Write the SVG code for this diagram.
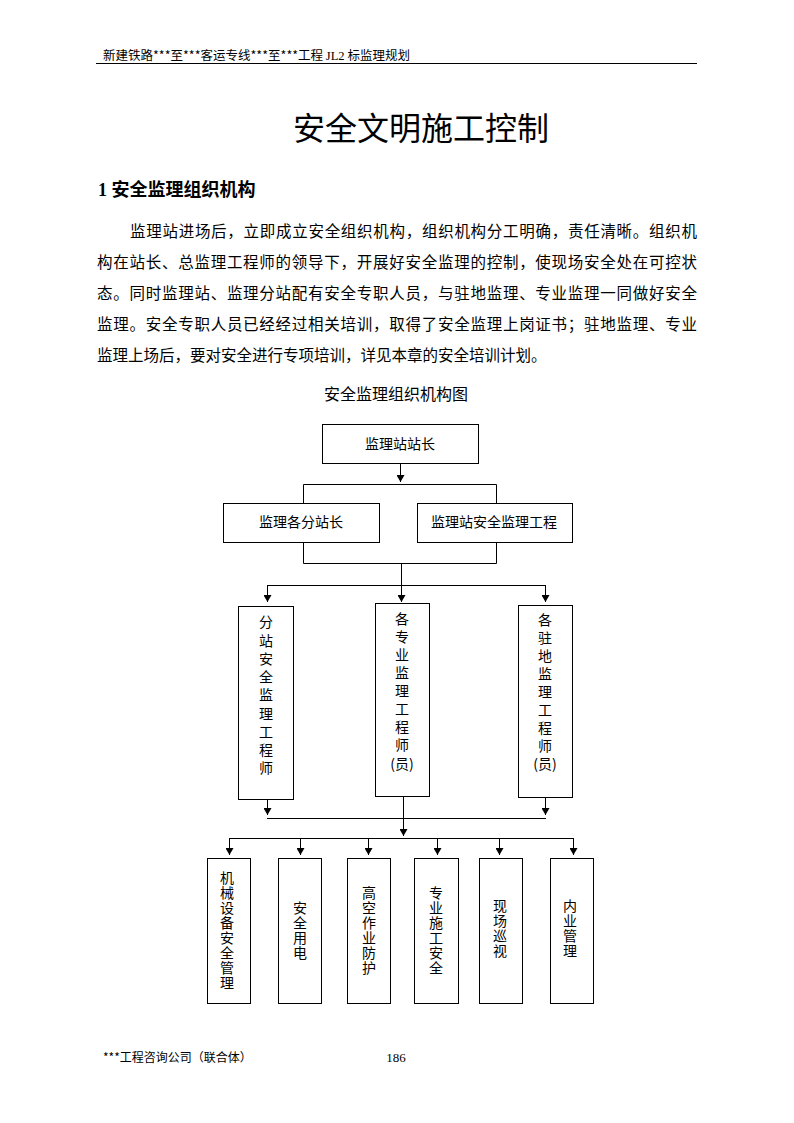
<svg xmlns="http://www.w3.org/2000/svg" width="794" height="1123" viewBox="0 0 794 1123">
<style>
.t{font-family:"Noto Sans CJK SC","Liberation Sans",sans-serif;fill:#000}
.s{font-family:"Liberation Serif","Noto Sans CJK SC",serif;fill:#000}
.box{fill:#fff;stroke:#000;stroke-width:1}
.ln{stroke:#000;stroke-width:1;fill:none}
.arr{stroke:#000;stroke-width:1;fill:none;marker-end:url(#ah)}
.v{font-family:"Noto Sans CJK SC",sans-serif;font-size:14px;writing-mode:vertical-rl;fill:#000}
.v1{letter-spacing:1px}
.v4{letter-spacing:4px}
</style>
<defs>
<marker id="ah" markerWidth="8" markerHeight="8" refX="7" refY="4" orient="auto" markerUnits="userSpaceOnUse" viewBox="0 0 8 8">
<path d="M0,0 L7,4 L0,8 z" fill="#000"/>
</marker>
</defs>
<rect width="794" height="1123" fill="#fff"/>

<g id="page-header">
<text class="t" x="103" y="60" font-size="12.5">新建铁路***至***客运专线***至***工程 <tspan class="s">JL2</tspan> 标监理规划</text>
<line class="ln" x1="96" y1="63.5" x2="697" y2="63.5"/>
</g>

<text class="t" x="421" y="140" font-size="32" text-anchor="middle">安全文明施工控制</text>
<text x="98" y="196" font-size="18" font-weight="bold"><tspan class="s">1 </tspan><tspan class="t">安全监理组织机构</tspan></text>

<g id="paragraph" class="t" font-size="15.5">
<text x="130" y="237" textLength="567" lengthAdjust="spacing">监理站进场后，立即成立安全组织机构，组织机构分工明确，责任清晰。组织机</text>
<text x="97" y="268" textLength="600" lengthAdjust="spacing">构在站长、总监理工程师的领导下，开展好安全监理的控制，使现场安全处在可控状</text>
<text x="97" y="299" textLength="600" lengthAdjust="spacing">态。同时监理站、监理分站配有安全专职人员，与驻地监理、专业监理一同做好安全</text>
<text x="97" y="330" textLength="600" lengthAdjust="spacing">监理。安全专职人员已经经过相关培训，取得了安全监理上岗证书；驻地监理、专业</text>
<text x="97" y="361">监理上场后，要对安全进行专项培训，详见本章的安全培训计划。</text>
</g>

<text class="t" x="396" y="400" font-size="16" text-anchor="middle">安全监理组织机构图</text>

<g id="connectors">
<line class="arr" x1="400.5" y1="463" x2="400.5" y2="482"/>
<polyline class="ln" points="303.5,503 303.5,484.5 496.5,484.5 496.5,503"/>
<polyline class="ln" points="303.5,542 303.5,563.5 496.5,563.5 496.5,542"/>
<line class="ln" x1="401.5" y1="563" x2="401.5" y2="585"/>
<line class="ln" x1="267" y1="585.5" x2="546" y2="585.5"/>
<line class="arr" x1="267.5" y1="585" x2="267.5" y2="602"/>
<line class="arr" x1="401.5" y1="585" x2="401.5" y2="602"/>
<line class="arr" x1="545.5" y1="585" x2="545.5" y2="602"/>
<line class="arr" x1="267.5" y1="799" x2="267.5" y2="815"/>
<line class="arr" x1="545.5" y1="797" x2="545.5" y2="815"/>
<line class="ln" x1="267" y1="818.5" x2="546" y2="818.5"/>
<line class="arr" x1="403.5" y1="796" x2="403.5" y2="836"/>
<line class="ln" x1="229" y1="838.5" x2="574" y2="838.5"/>
<line class="arr" x1="229.5" y1="838" x2="229.5" y2="855"/>
<line class="arr" x1="300.5" y1="838" x2="300.5" y2="855"/>
<line class="arr" x1="368.5" y1="838" x2="368.5" y2="855"/>
<line class="arr" x1="437.5" y1="838" x2="437.5" y2="855"/>
<line class="arr" x1="499.5" y1="838" x2="499.5" y2="855"/>
<line class="arr" x1="573.5" y1="838" x2="573.5" y2="855"/>
</g>

<g id="n-zhanzhang">
<rect class="box" x="322.5" y="424.5" width="156" height="39"/>
<text class="t" x="400" y="449" font-size="14" text-anchor="middle">监理站站长</text>
</g>
<g id="n-fenzhanzhang">
<rect class="box" x="223.5" y="503.5" width="156" height="39"/>
<text class="t" x="301" y="527" font-size="14" text-anchor="middle">监理各分站长</text>
</g>
<g id="n-anquangongcheng">
<rect class="box" x="417.5" y="503.5" width="155" height="39"/>
<text class="t" x="494" y="527" font-size="14" text-anchor="middle">监理站安全监理工程</text>
</g>

<g id="n-fenzhan-anquan">
<rect class="box" x="238.5" y="606.5" width="55" height="193"/>
<text class="v" x="266" y="615" style="letter-spacing:4.25px">分站安全监理工程师</text>
</g>
<g id="n-zhuanye">
<rect class="box" x="375.5" y="603.5" width="54" height="193"/>
<text class="v v4" x="402" y="612">各专业监理工程师</text>
<text class="t" x="402" y="769" font-size="14" text-anchor="middle">(员)</text>
</g>
<g id="n-zhudi">
<rect class="box" x="518.5" y="605.5" width="54" height="192"/>
<text class="v v4" x="545" y="613">各驻地监理工程师</text>
<text class="t" x="545" y="769" font-size="14" text-anchor="middle">(员)</text>
</g>

<g id="n-jixie">
<rect class="box" x="207.5" y="858.5" width="43" height="145"/>
<text class="v v1" x="227" y="870.5">机械设备安全管理</text>
</g>
<g id="n-yongdian">
<rect class="box" x="278.5" y="858.5" width="43" height="145"/>
<text class="v v1" x="300" y="900.5">安全用电</text>
</g>
<g id="n-gaokong">
<rect class="box" x="347.5" y="858.5" width="43" height="145"/>
<text class="v v1" x="369" y="885.5">高空作业防护</text>
</g>
<g id="n-shigong">
<rect class="box" x="414.5" y="858.5" width="44" height="145"/>
<text class="v v1" x="436" y="885.5">专业施工安全</text>
</g>
<g id="n-xunshi">
<rect class="box" x="479.5" y="858.5" width="43" height="145"/>
<text class="v v1" x="500" y="899">现场巡视</text>
</g>
<g id="n-neiye">
<rect class="box" x="550.5" y="858.5" width="43" height="145"/>
<text class="v v1" x="570" y="899">内业管理</text>
</g>

<g id="page-footer">
<text class="t" x="103" y="1062" font-size="12">***工程咨询公司（联合体）</text>
<text class="s" x="396" y="1062" font-size="13" text-anchor="middle">186</text>
</g>
</svg>
